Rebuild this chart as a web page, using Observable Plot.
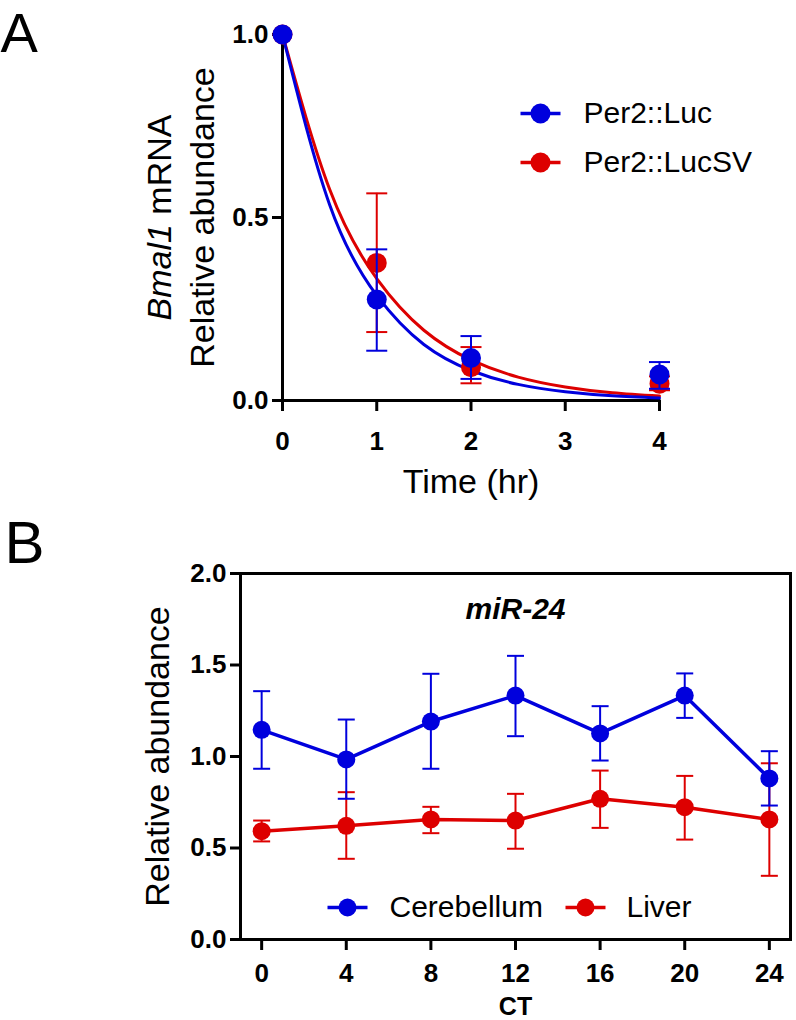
<!DOCTYPE html>
<html><head><meta charset="utf-8">
<script src="https://cdn.jsdelivr.net/npm/d3@7"></script>
<script src="https://cdn.jsdelivr.net/npm/@observablehq/plot@0.6"></script>
<style>
body{margin:0;background:#fff;}
#chart{width:796px;height:1020px;overflow:hidden;}
#chart svg{display:block;}
</style></head><body><div id="chart"></div>
<script>
const BLUE = "#0000dd", RED = "#dd0000";
const FONT = "'Liberation Sans', Arial, Helvetica, sans-serif";

// ---------- Panel A data ----------
const timeHr = [0, 1, 2, 4];
const lucMean = [1.0, 0.276, 0.116, 0.071];
const lucLo   = [1.0, 0.136, 0.059, 0.032];
const lucHi   = [1.0, 0.413, 0.176, 0.105];
const lucSVMean = [1.0, 0.376, 0.091, 0.046];
const lucSVLo   = [1.0, 0.187, 0.047, 0.028];
const lucSVHi   = [1.0, 0.566, 0.146, 0.066];
const fitTime  = [0, 0.5, 1, 1.5, 2, 2.5, 3, 3.5, 4];
const lucFit   = [1.0, 0.535, 0.287, 0.153, 0.082, 0.044, 0.024, 0.013, 0.007];
const lucSVFit = [1.0, 0.577, 0.333, 0.192, 0.111, 0.064, 0.037, 0.021, 0.012];
const timeTicks = [0, 1, 2, 3, 4];
const abundTicksA = [0, 0.5, 1.0];
const seriesA = ["Per2::Luc", "Per2::LucSV"];

// ---------- Panel B data ----------
const ctHours = [0, 4, 8, 12, 16, 20, 24];
const cerebMean = [1.146, 0.984, 1.191, 1.333, 1.126, 1.333, 0.880];
const cerebLo   = [0.933, 0.769, 0.933, 1.111, 0.978, 1.211, 0.732];
const cerebHi   = [1.357, 1.202, 1.452, 1.550, 1.275, 1.454, 1.029];
const liverMean = [0.592, 0.621, 0.656, 0.650, 0.769, 0.723, 0.656];
const liverLo   = [0.536, 0.441, 0.581, 0.496, 0.610, 0.546, 0.348];
const liverHi   = [0.650, 0.805, 0.725, 0.796, 0.923, 0.894, 0.963];
const abundTicksB = [0, 0.5, 1.0, 1.5, 2.0];
const seriesB = ["Cerebellum", "Liver"];

// ---------- helpers ----------
const capSymbol = {draw(ctx, size) {const r = Math.sqrt(size / Math.PI); ctx.moveTo(-r, 0); ctx.lineTo(r, 0);}};
const rows = (xs, m, lo, hi) => xs.map((t, i) => ({t, m: m[i], lo: lo[i], hi: hi[i]}));
const fitRows = (xs, ys) => xs.map((t, i) => ({t, y: ys[i]}));

function errorMarks(data, color, capR, sw) {
  const d = data.filter(r => r.hi > r.lo);
  return [
    Plot.ruleX(d, {x: "t", y1: "lo", y2: "hi", stroke: color, strokeWidth: sw}),
    Plot.dot(d, {x: "t", y: "hi", symbol: capSymbol, r: capR, stroke: color, strokeWidth: sw, fill: "none"}),
    Plot.dot(d, {x: "t", y: "lo", symbol: capSymbol, r: capR, stroke: color, strokeWidth: sw, fill: "none"})
  ];
}
function legendItem(label, color, dx, dy, tdx, r, lineR, fs) {
  return [
    Plot.dot([label], {frameAnchor: "top-left", dx, dy, symbol: capSymbol, r: lineR, stroke: color, strokeWidth: 3.5, fill: "none"}),
    Plot.dot([label], {frameAnchor: "top-left", dx, dy, r, fill: color}),
    Plot.text([label], {frameAnchor: "top-left", dx: tdx, dy, text: d => d, fontSize: fs, textAnchor: "start", lineAnchor: "middle", fill: "black"})
  ];
}

const luc = rows(timeHr, lucMean, lucLo, lucHi);
const lucSV = rows(timeHr, lucSVMean, lucSVLo, lucSVHi);
const cereb = rows(ctHours, cerebMean, cerebLo, cerebHi);
const liver = rows(ctHours, liverMean, liverLo, liverHi);

const TICK_FS = 26;

// ---------- Panel A ----------
const plotA = Plot.plot({
  width: 796, height: 510,
  marginLeft: 282, marginRight: 137, marginTop: 34, marginBottom: 110,
  style: {fontFamily: FONT, color: "black", background: "white", overflow: "visible"},
  x: {domain: d3.extent(timeTicks)},
  y: {domain: d3.extent(abundTicksA)},
  marks: [
    Plot.axisY({ticks: abundTicksA, tickFormat: d3.format(".1f"), tickSize: 10, tickPadding: 4, fontSize: TICK_FS, fontWeight: "bold", strokeWidth: 3, label: null}),
    Plot.axisX({ticks: timeTicks, tickFormat: d3.format("d"), tickSize: 11, tickPadding: 20, fontSize: TICK_FS, fontWeight: "bold", strokeWidth: 3, label: null}),
    Plot.ruleY([abundTicksA[0]], {x1: timeTicks[0], x2: timeTicks[timeTicks.length - 1], strokeWidth: 3, strokeLinecap: "square"}),
    Plot.ruleX([timeTicks[0]], {y1: abundTicksA[0], y2: abundTicksA[abundTicksA.length - 1], strokeWidth: 3, strokeLinecap: "square"}),
    Plot.line(fitRows(fitTime, lucSVFit), {x: "t", y: "y", curve: "natural", stroke: RED, strokeWidth: 3}),
    Plot.line(fitRows(fitTime, lucFit), {x: "t", y: "y", curve: "natural", stroke: BLUE, strokeWidth: 3}),
    ...errorMarks(lucSV, RED, 10.5, 2),
    Plot.dot(lucSV, {x: "t", y: "m", r: 10, fill: RED}),
    ...errorMarks(luc, BLUE, 10.5, 2),
    Plot.dot(luc, {x: "t", y: "m", r: 10, fill: BLUE}),
    ...legendItem(seriesA[0], BLUE, 258, 79, 301, 10, 20, 30),
    ...legendItem(seriesA[1], RED, 258, 128, 301, 10, 20, 30),
    Plot.text(["A"], {frameAnchor: "top-left", dx: -282, dy: 17, text: d => d, fontSize: 56, textAnchor: "start", lineAnchor: "bottom", fill: "black"}),
    Plot.text(["Bmal1 mRNA"], {frameAnchor: "left", dx: -112, rotate: -90, text: d => d, fontSize: 34, textAnchor: "middle", lineAnchor: "bottom", fill: "black"}),
    Plot.text(["Relative abundance"], {frameAnchor: "left", dx: -69, rotate: -90, text: d => d, fontSize: 34, textAnchor: "middle", lineAnchor: "bottom", fill: "black"}),
    Plot.text(["Time (hr)"], {frameAnchor: "bottom", dy: 92, text: d => d, fontSize: 34, textAnchor: "middle", lineAnchor: "bottom", fill: "black"})
  ]
});

// ---------- Panel B ----------
const plotB = Plot.plot({
  width: 796, height: 510,
  marginLeft: 240, marginRight: 6, marginTop: 63, marginBottom: 81,
  style: {fontFamily: FONT, color: "black", background: "white", overflow: "visible"},
  x: {domain: [-1, 25]},
  y: {domain: d3.extent(abundTicksB)},
  marks: [
    Plot.frame({stroke: "black", strokeWidth: 3}),
    Plot.axisY({ticks: abundTicksB, tickFormat: d3.format(".1f"), tickSize: 10, tickPadding: 4, fontSize: TICK_FS, fontWeight: "bold", strokeWidth: 3, label: null}),
    Plot.axisX({ticks: ctHours, tickFormat: d3.format("d"), tickSize: 11, tickPadding: 13, fontSize: TICK_FS, fontWeight: "bold", strokeWidth: 3, label: null}),
    ...errorMarks(liver, RED, 8.5, 2),
    Plot.line(liver, {x: "t", y: "m", stroke: RED, strokeWidth: 3.5}),
    Plot.dot(liver, {x: "t", y: "m", r: 9, fill: RED}),
    ...errorMarks(cereb, BLUE, 8.5, 2),
    Plot.line(cereb, {x: "t", y: "m", stroke: BLUE, strokeWidth: 3.5}),
    Plot.dot(cereb, {x: "t", y: "m", r: 9, fill: BLUE}),
    Plot.text(["miR-24"], {frameAnchor: "top", dy: 45, text: d => d, fontSize: 30, fontWeight: "bold", fontStyle: "italic", textAnchor: "middle", lineAnchor: "bottom", fill: "black"}),
    ...legendItem(seriesB[0], BLUE, 107, 334, 149, 9, 20, 30),
    ...legendItem(seriesB[1], RED, 345, 334, 386, 9, 20, 30),
    Plot.text(["B"], {frameAnchor: "top-left", dx: -236, dy: -11, text: d => d, fontSize: 60, textAnchor: "start", lineAnchor: "bottom", fill: "black"}),
    Plot.text(["Relative abundance"], {frameAnchor: "left", dx: -72, rotate: -90, text: d => d, fontSize: 34, textAnchor: "middle", lineAnchor: "bottom", fill: "black"}),
    Plot.text(["CT"], {frameAnchor: "bottom", dy: 75, text: d => d, fontSize: 25, fontWeight: "bold", textAnchor: "middle", lineAnchor: "bottom", fill: "black"})
  ]
});

const chart = document.getElementById("chart");
chart.appendChild(plotA);
chart.appendChild(plotB);

// italicise the gene name in panel A's y-axis label
plotA.querySelectorAll("text").forEach(t => {
  if (t.textContent === "Bmal1 mRNA") {
    t.textContent = "";
    const ns = "http://www.w3.org/2000/svg";
    const a = document.createElementNS(ns, "tspan");
    a.setAttribute("font-style", "italic");
    a.textContent = "Bmal1";
    const b = document.createElementNS(ns, "tspan");
    b.textContent = "\u00a0mRNA";
    t.appendChild(a); t.appendChild(b);
  }
});
</script>
</body></html>
